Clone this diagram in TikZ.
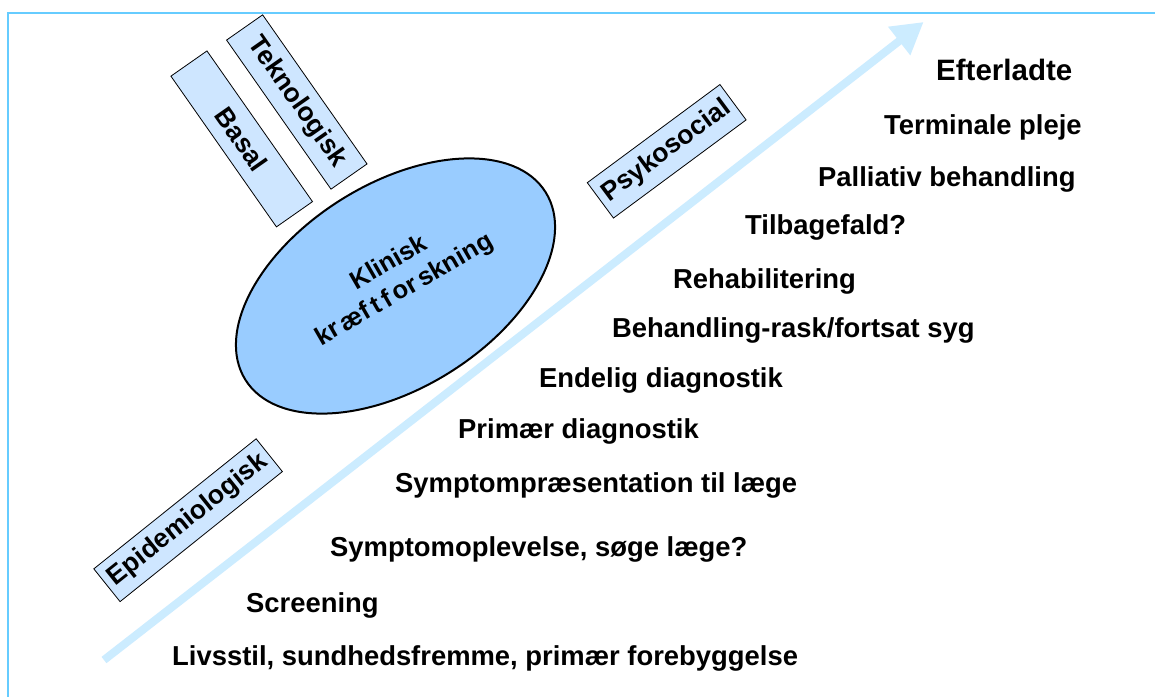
\documentclass[tikz,border=0pt]{standalone}
\usepackage{fontspec}
\setmainfont{Liberation Sans}
\usetikzlibrary{arrows.meta,shapes.geometric}
\definecolor{framecol}{RGB}{102,204,255}
\definecolor{boxfill}{RGB}{206,230,255}
\definecolor{arrowcol}{RGB}{204,236,255}
\definecolor{ellfill}{RGB}{153,204,255}
\tikzset{
  listtext/.style={anchor=base west, inner sep=0pt, font=\fontsize{27.4}{32}\selectfont\bfseries},
  tiltbox/.style={draw=black, line width=0.8pt, fill=boxfill, rectangle, inner sep=0pt,
     minimum height=44pt, align=center, font=\fontsize{26.5}{32}\selectfont\bfseries},
  clinic/.style={draw=black, line width=2pt, fill=ellfill, ellipse, inner sep=0pt},
  cliniclabel/.style={align=center, inner sep=0pt, font=\fontsize{25.5}{31}\selectfont\bfseries},
  flow/.style={draw=arrowcol, line width=8pt, -{Triangle[length=31pt,width=34pt]}}
}
\begin{document}
\begin{tikzpicture}[x=1pt,y=-1pt]
\useasboundingbox (0,0) rectangle (1155,696);
\fill[white] (0,0) rectangle (1155,696);
% frame
\draw[framecol, line width=2pt] (7.5,700) -- (7.5,12.5) -- (1160,12.5);
% timeline arrow
\coordinate (arrowstart) at (104,660);
\coordinate (arrowtip) at (923.6,22);
\draw[flow] (arrowstart) -- (arrowtip);
% research area boxes
\node[tiltbox, minimum width=184pt, rotate=-55] (basal) at (241.7,138.9) {Basal};
\node[tiltbox, minimum width=182pt, rotate=-55] (tekno) at (296.8,102) {Teknologisk};
\node[tiltbox, minimum width=165pt, rotate=36.5] (psyko) at (666.7,151.3) {Psykosocial};
\node[tiltbox, minimum width=208pt, minimum height=42pt, rotate=38.7] (epi) at (188.1,520.2) {Epidemiologisk};
% clinical research ellipse
\node[clinic, minimum width=354pt, minimum height=204pt, rotate=32] (klinisk) at (395.5,286) {};
\node[cliniclabel, rotate=30] (kliniklabel) at (397,277) {Klinisk\\kr\hspace{4pt}æf\hspace{4pt}t\hspace{4pt}f\hspace{4pt}or\hspace{4pt}skning};
% stages
\node[listtext, font=\fontsize{29.5}{34}\selectfont\bfseries] (s12) at (936,80) {Efterladte};
\node[listtext] (s11) at (884,134) {Terminale pleje};
\node[listtext] (s10) at (818,186) {Palliativ behandling};
\node[listtext] (s9) at (745,234) {Tilbagefald?};
\node[listtext] (s8) at (673,288) {Rehabilitering};
\node[listtext] (s7) at (612,337) {Behandling-rask/fortsat syg};
\node[listtext] (s6) at (539,387) {Endelig diagnostik};
\node[listtext] (s5) at (458,438) {Primær diagnostik};
\node[listtext] (s4) at (395,492) {Symptompræsentation til læge};
\node[listtext] (s3) at (330,556) {Symptomoplevelse, søge læge?};
\node[listtext] (s2) at (246,612) {Screening};
\node[listtext] (s1) at (172,665) {Livsstil, sundhedsfremme, primær forebyggelse};
\end{tikzpicture}
\end{document}
